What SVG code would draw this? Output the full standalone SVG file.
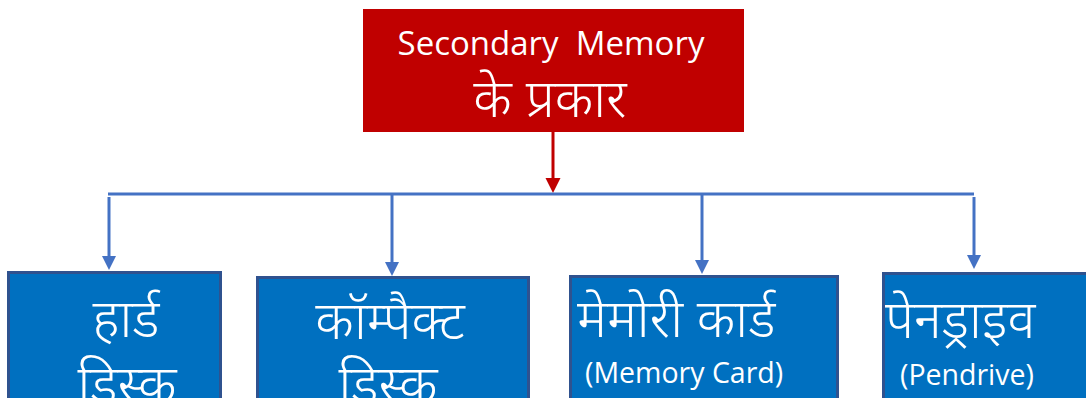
<svg xmlns="http://www.w3.org/2000/svg" width="1086" height="398" viewBox="0 0 1086 398">
  <style>
    .lat { font-family: "Open Sans", "Liberation Sans", sans-serif; fill: #ffffff; }
    .hin { font-family: "Noto Sans Devanagari", "Nirmala UI", "Mangal", "Noto Sans", "Lohit Devanagari", sans-serif; fill: #ffffff; font-weight: 300; font-size: 53px; }
    .box { fill: #0070C0; stroke: #2F528F; stroke-width: 3; }
    .conn { stroke: #4472C4; stroke-width: 3; fill: none; }
  </style>
  <defs>
    <marker id="ab" viewBox="0 0 10 10" refX="0" refY="5" markerWidth="14" markerHeight="15" markerUnits="userSpaceOnUse" orient="auto">
      <path d="M0,0 L10,5 L0,10 Z" fill="#4472C4"/>
    </marker>
    <marker id="ar" viewBox="0 0 10 10" refX="0" refY="5" markerWidth="15" markerHeight="17" markerUnits="userSpaceOnUse" orient="auto">
      <path d="M0,0 L10,5 L0,10 Z" fill="#C00000"/>
    </marker>
  </defs>

  <g id="root">
    <rect x="363" y="9" width="381" height="123" fill="#C00000"/>
    <text class="lat" x="551" y="55" font-size="33" text-anchor="middle" xml:space="preserve">Secondary  Memory</text>
    <text class="hin" x="550" y="117" text-anchor="middle">के प्रकार</text>
  </g>

  <g id="connectors">
    <line x1="553" y1="132" x2="553" y2="178" stroke="#C00000" stroke-width="3" marker-end="url(#ar)"/>
    <line class="conn" x1="108" y1="194" x2="974" y2="194"/>
    <line class="conn" x1="109" y1="197" x2="109" y2="256" marker-end="url(#ab)"/>
    <line class="conn" x1="392" y1="194" x2="392" y2="262" marker-end="url(#ab)"/>
    <line class="conn" x1="702" y1="194" x2="702" y2="260" marker-end="url(#ab)"/>
    <line class="conn" x1="974" y1="197" x2="974" y2="255" marker-end="url(#ab)"/>
  </g>

  <g id="hard-disk">
    <rect class="box" x="8.5" y="272.5" width="212" height="160"/>
    <text class="hin" x="126" y="337" text-anchor="middle">हार्ड</text>
    <text class="hin" x="127" y="403" text-anchor="middle">डिस्क</text>
  </g>

  <g id="compact-disk">
    <rect class="box" x="257.5" y="277.5" width="271" height="160"/>
    <text class="hin" x="390" y="339" text-anchor="middle">कॉम्पैक्ट</text>
    <text class="hin" x="388" y="403" text-anchor="middle">डिस्क</text>
  </g>

  <g id="memory-card">
    <rect class="box" x="570.5" y="276.5" width="267" height="160"/>
    <text class="hin" x="577" y="337">मेमोरी कार्ड</text>
    <text class="lat" x="585" y="383" font-size="28.5">(Memory Card)</text>
  </g>

  <g id="pendrive">
    <rect class="box" x="883.5" y="273.5" width="220" height="160"/>
    <text class="hin" x="885" y="338">पेनड्राइव</text>
    <text class="lat" x="900" y="385" font-size="28.5">(Pendrive)</text>
  </g>
</svg>
